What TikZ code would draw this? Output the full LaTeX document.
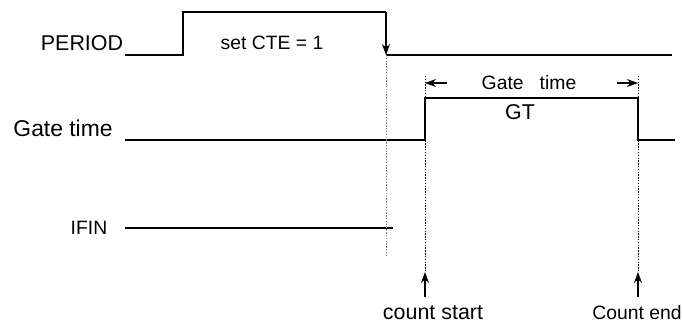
\documentclass[tikz,border=0pt]{standalone}
\usepackage{fontspec}
\setmainfont{Liberation Sans}
\usetikzlibrary{arrows.meta,positioning}
\tikzset{
  sig/.style={line width=0.6pt},
  guide/.style={line width=0.4pt,dash pattern=on 0.8pt off 0.8pt},
  lbl/.style={font=\fontsize{11}{13}\selectfont,inner sep=1pt},
  biglbl/.style={lbl,font=\fontsize{12.2}{14}\selectfont},
  tip/.style={-{Stealth[length=2.2mm,width=1.6mm]},line width=0.6pt},
}

\begin{document}
\begin{tikzpicture}[x=0.02cm,y=-0.02cm]
  \useasboundingbox (0,0) rectangle (683,325);
  % PERIOD
  \node[biglbl] (per) at (82,43) {PERIOD};
  \node[lbl] (cte) at (272,43) {set CTE = 1};
  \coordinate (p0) at (125,55);
  \coordinate (p1) at (183,55);
  \coordinate (p2) at (183,12);
  \coordinate (p3) at (386,12);
  \coordinate (p4) at (386,55);
  \coordinate (p5) at (672,55);
  \draw[sig] (p0) -- (p1) -- (p2) -- (p3);
  \draw[tip] (p3) -- (p4);
  \draw[sig] (p4) -- (p5);
  % Gate time
  \node[lbl,font=\fontsize{13}{15}\selectfont] (gate) at (63,128) {Gate time};
  \node[biglbl] (gt) at (520,112) {GT};
  \coordinate (g0) at (125,140);
  \coordinate (g1) at (425,140);
  \coordinate (g2) at (425,98);
  \coordinate (g3) at (638,98);
  \coordinate (g4) at (638,140);
  \coordinate (g5) at (675,140);
  \draw[sig] (g0) -- (g1) -- (g2) -- (g3) -- (g4) -- (g5);
  \node[lbl] (dim) at (529,83) {Gate\ \ \ time};
  \draw[tip] (447,83) coordinate (da) -- (425,83) coordinate (db);
  \draw[tip] (617,83) coordinate (dc) -- (638,83) coordinate (dd);
  % IFIN
  \node[lbl] (ifin) at (89,228) {IFIN};
  \coordinate (i0) at (125,228);
  \coordinate (i1) at (393,228);
  \draw[sig] (i0) -- (i1);
  % guides
  \coordinate (v0) at (386,257);
  \coordinate (s0) at (425,76);
  \coordinate (s1) at (425,272);
  \coordinate (s2) at (425,297);
  \coordinate (e0) at (638,76);
  \coordinate (e1) at (638,272);
  \coordinate (e2) at (638,297);
  \draw[guide,gray] (p4) -- (v0);
  \draw[guide] (s0) -- (s1);
  \draw[guide] (e0) -- (e1);
  % count markers
  \node[biglbl] (cs) at (433,313) {count start};
  \node[lbl] (ce) at (637,313) {Count end};
  \draw[tip] (s2) -- (s1);
  \draw[tip] (e2) -- (e1);
\end{tikzpicture}
\end{document}
